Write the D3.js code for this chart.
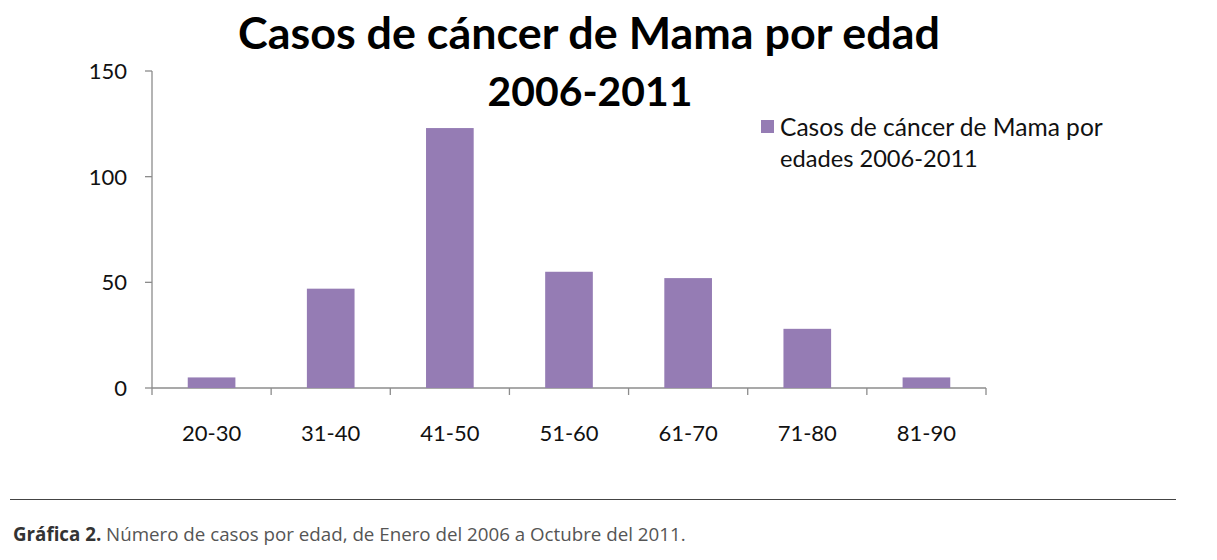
<!DOCTYPE html>
<html><head><meta charset="utf-8">
<script src="https://cdn.jsdelivr.net/npm/d3@7"></script>
<style>body{margin:0;background:#fff}svg{display:block}</style>
</head><body>
<script>
const categories = ["20-30","31-40","41-50","51-60","61-70","71-80","81-90"];
const values = [5,47,123,55,52,28,5];
const yTicks = [0,50,100,150];
const titleLines = ["Casos de cáncer de Mama por edad","2006-2011"];
const legendLines = ["Casos de cáncer de Mama por","edades 2006-2011"];
const captionBold = "Gráfica 2.";
const captionText = " Número de casos por edad, de Enero del 2006 a Octubre del 2011.";

const W=1217,H=560;
const svg=d3.select("body").append("svg").attr("width",W).attr("height",H);
const font="Lato, 'Open Sans', sans-serif";
const x=d3.scaleBand().domain(categories).range([152,986]).paddingInner(0.6).paddingOuter(0.3);
const y=d3.scaleLinear().domain([0,150]).range([388,71]);
const axisCol="#8c8c8c";

function fit(sel,target){const n=sel.node();const w=n.getComputedTextLength();const fs=parseFloat(sel.attr("font-size"));sel.attr("font-size",fs*target/w);}

// y axis
svg.append("line").attr("x1",152).attr("x2",152).attr("y1",y(150)).attr("y2",y(0)).attr("stroke",axisCol).attr("stroke-width",1.3);
yTicks.forEach(t=>{
  svg.append("line").attr("x1",145).attr("x2",152).attr("y1",y(t)).attr("y2",y(t)).attr("stroke",axisCol).attr("stroke-width",1.3);
  svg.append("text").attr("x",127).attr("y",y(t)).attr("dy","0.37em").attr("text-anchor","end")
    .attr("font-family",font).attr("font-size",22).attr("fill","#111").text(t);
});
// x axis
svg.append("line").attr("x1",152).attr("x2",986).attr("y1",y(0)).attr("y2",y(0)).attr("stroke",axisCol).attr("stroke-width",1.3);
const step=x.step();
d3.range(categories.length+1).forEach(i=>{
  const xx=152+i*step;
  svg.append("line").attr("x1",xx).attr("x2",xx).attr("y1",y(0)).attr("y2",y(0)+7).attr("stroke",axisCol).attr("stroke-width",1.3);
});
categories.forEach(c=>{
  svg.append("text").attr("x",x(c)+x.bandwidth()/2).attr("y",433).attr("dy","0.36em").attr("text-anchor","middle")
    .attr("font-family",font).attr("font-size",22).attr("fill","#111").text(c);
});
// bars
svg.selectAll("rect.bar").data(values).enter().append("rect").attr("class","bar")
  .attr("x",(d,i)=>x(categories[i])).attr("width",x.bandwidth())
  .attr("y",d=>y(d)).attr("height",d=>y(0)-y(d)).attr("fill","#957cb4");

// title
const t1=svg.append("text").attr("x",589).attr("y",49).attr("text-anchor","middle").attr("font-family",font)
  .attr("font-weight","bold").attr("font-size",40).attr("fill","#000").text(titleLines[0]);
fit(t1,702);
const t2=svg.append("text").attr("x",590).attr("y",106).attr("text-anchor","middle").attr("font-family",font)
  .attr("font-weight","bold").attr("font-size",40).attr("fill","#000").text(titleLines[1]);
fit(t2,205);

// legend
svg.append("rect").attr("x",761).attr("y",120).attr("width",13).attr("height",13).attr("fill","#957cb4");
const l1=svg.append("text").attr("x",780).attr("y",136).attr("font-family",font).attr("font-size",21).attr("fill","#111").text(legendLines[0]);
fit(l1,323);
const l2=svg.append("text").attr("x",780).attr("y",167).attr("font-family",font).attr("font-size",21).attr("fill","#111").text(legendLines[1]);
fit(l2,198);

// caption rule
svg.append("line").attr("x1",10).attr("x2",1176).attr("y1",499.5).attr("y2",499.5).attr("stroke","#444").attr("stroke-width",1);
const cap=svg.append("text").attr("x",13).attr("y",541).attr("font-family","'Open Sans', sans-serif").attr("font-size",17).attr("fill","#555");
cap.append("tspan").attr("font-weight","bold").attr("fill","#333").text(captionBold);
cap.append("tspan").text(captionText);
fit(cap,673);
</script>
</body></html>
